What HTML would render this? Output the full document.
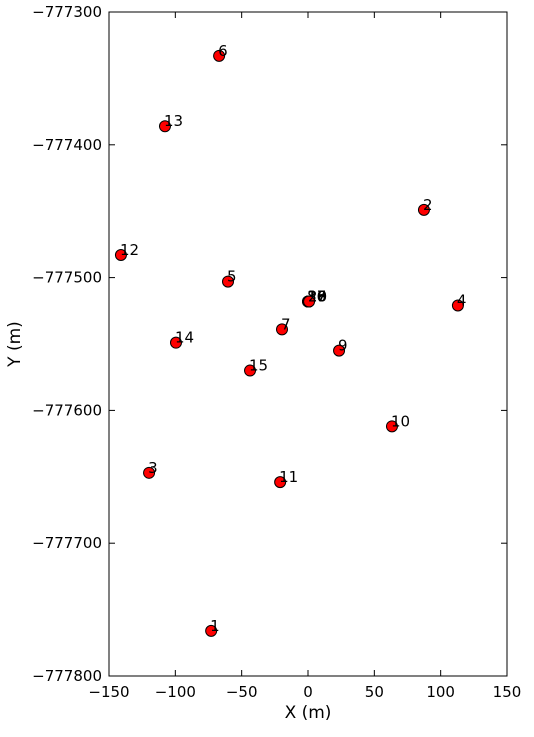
<!DOCTYPE html>
<html><head><meta charset="utf-8"><style>
body{margin:0;background:#fff}
svg text{font-family:"DejaVu Sans","Liberation Sans",sans-serif;font-size:15px;fill:#000}
svg text.title{font-size:17px}
</style></head><body>
<svg id="c" width="534" height="732"></svg>
<script>
const labels=["1","2","3","4","5","6","7","9","10","11","12","13","14","15","8","16","17","18","19","20"];
const xs=[-73,87.4,-119.8,113,-60.3,-67,-19.6,23.4,63.3,-21,-141,-107.8,-99.5,-43.7,0,0,0.2,0.4,0.6,0.8];
const ys=[-777766,-777449,-777647,-777521,-777503,-777333,-777539,-777555,-777612,-777654,-777483,-777386,-777549,-777570,-777518,-777518,-777518,-777518,-777518,-777518];
const xTicks=[-150,-100,-50,0,50,100,150];
const yTicks=[-777300,-777400,-777500,-777600,-777700,-777800];
const L=109,R=507,T=12,B=676;
const sx=v=>L+(v+150)/300*(R-L);
const sy=v=>T+(-777300-v)/500*(B-T);
const svg=document.getElementById('c');const NS='http://www.w3.org/2000/svg';
function mk(t,a,p){const e=document.createElementNS(NS,t);for(const k in a)e.setAttribute(k,a[k]);(p||svg).appendChild(e);return e;}
const fmt=v=>(v<0?'\u2212':'')+Math.abs(v);
xTicks.forEach(v=>{const x=sx(v);
 let t=mk('line',{x1:x,x2:x,y1:B,y2:B-6,stroke:'#000'});
 
 
 mk('line',{x1:x,x2:x,y1:T,y2:T+6,stroke:'#000'});
 let l=mk('text',{x:x,y:B+21,'text-anchor':'middle'});l.textContent=fmt(v);
 
 });
yTicks.forEach(v=>{const y=sy(v);
 let t=mk('line',{x1:L,x2:L+6,y1:y,y2:y,stroke:'#000'});
 
 
 mk('line',{x1:R,x2:R-6,y1:y,y2:y,stroke:'#000'});
 let l=mk('text',{x:L-7,y:y+5,'text-anchor':'end'});l.textContent=fmt(v);
 
 });
let fr=mk('rect',{x:L,y:T,width:R-L,height:B-T,fill:'none',stroke:'#000'});


xs.forEach((v,i)=>{const x=sx(v),y=sy(ys[i]);
 let c=mk('circle',{cx:x,cy:y,r:5.5,fill:'#f00',stroke:'#000'});
 
 
 let t=mk('text',{x:x-1,y:y});t.textContent=labels[i];
 
 });
let xt=mk('text',{x:(L+R)/2,y:718,'text-anchor':'middle','class':'title'});xt.textContent='X (m)';


let yt=mk('text',{x:20,y:(T+B)/2,'text-anchor':'middle','class':'title',transform:'rotate(-90 20 '+(T+B)/2+')'});yt.textContent='Y (m)';


</script>
</body></html>
